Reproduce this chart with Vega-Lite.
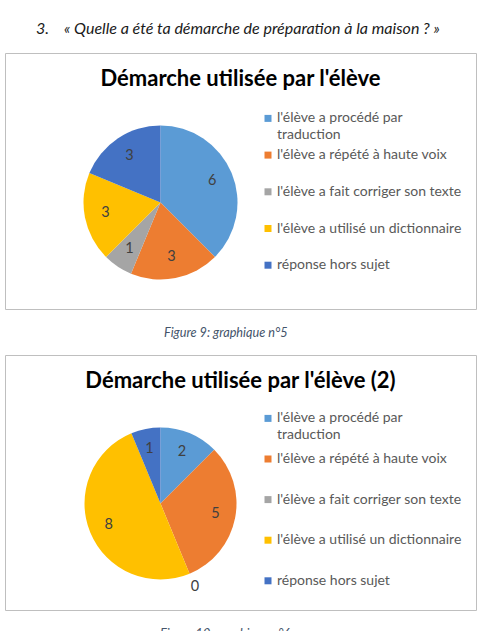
{
  "$schema": "https://vega.github.io/schema/vega-lite/v6.json",
  "background": "white",
  "padding": {"left": 4, "top": 20, "right": 0, "bottom": 0},
  "title": {"text": "3.\u00a0\u00a0\u00a0\u00a0« Quelle a été ta démarche de préparation à la maison ? »", "anchor": "start", "frame": "group", "dx": 31, "offset": 3, "baseline": "alphabetic", "font": "Lato", "fontSize": 16, "fontStyle": "italic", "fontWeight": "normal", "color": "#1a1a1a"},
  "spacing": 14,
  "resolve": {"scale": {"color": "independent"}, "legend": {"color": "independent"}},
  "config": {"style": {"guide-label": {"lineHeight": 17}}},
  "vconcat": [
    {
      "title": {"text": "Figure 9: graphique n°5", "orient": "bottom", "anchor": "start", "frame": "group", "dx": 159, "offset": 27, "baseline": "alphabetic", "font": "Lato", "fontSize": 12.7, "fontStyle": "italic", "fontWeight": "normal", "color": "#44546A"},
      "resolve": {"scale": {"color": "independent"}, "legend": {"color": "independent"}},
      "vconcat": [
        {
          "width": 471, "height": 256,
          "view": {"stroke": "#BFBFBF", "strokeWidth": 1, "fill": "white"},
          "title": {"text": "Démarche utilisée par l'élève", "frame": "group", "anchor": "middle", "baseline": "alphabetic", "offset": -55, "font": "Lato", "fontSize": 22, "fontWeight": "bold", "color": "#000000"},
          "data": {"values": [
            {"i": 1, "cat": "l'élève a procédé par traduction", "n": 6},
            {"i": 2, "cat": "l'élève a répété à haute voix", "n": 3},
            {"i": 3, "cat": "l'élève a fait corriger son texte", "n": 1},
            {"i": 4, "cat": "l'élève a utilisé un dictionnaire", "n": 3},
            {"i": 5, "cat": "réponse hors sujet", "n": 3}
          ]},
          "layer": [
            {
              "mark": {"type": "arc", "outerRadius": 77, "x": 155.5, "y": 149.5},
              "encoding": {
                "theta": {"field": "n", "type": "quantitative", "stack": true},
                "order": {"field": "i", "type": "quantitative"},
                "color": {"field": "cat", "type": "nominal",
                  "scale": {"domain": ["l'élève a procédé par traduction", "l'élève a répété à haute voix", "l'élève a fait corriger son texte", "l'élève a utilisé un dictionnaire", "réponse hors sujet"], "range": ["#5B9BD5", "#ED7D31", "#A5A5A5", "#FFC000", "#4472C4"]},
                  "legend": {"orient": "none", "legendX": 256, "legendY": 58.4, "title": null, "padding": 0, "symbolType": "square", "symbolSize": 49, "symbolStrokeWidth": 0, "labelFont": "Lato", "labelFontSize": 14, "labelColor": "#595959", "labelLimit": 300, "labelOffset": 2, "rowPadding": 5.7, "gridAlign": "all",
                    "labelExpr": "indexof(datum.label, 'traduction') > 0 ? [substring(datum.label, 0, 21), 'traduction'] : datum.label"}
                }
              }
            },
            {
              "mark": {"type": "text", "radius": {"expr": "datum.n == 0 ? 90 : 56"}, "x": 155.5, "y": 149.5, "font": "Lato", "fontSize": 14.5, "color": "#404040"},
              "encoding": {
                "theta": {"field": "n", "type": "quantitative", "stack": true},
                "order": {"field": "i", "type": "quantitative"},
                "detail": {"field": "cat", "type": "nominal"},
                "text": {"field": "n", "type": "quantitative"}
              }
            }
          ]
        }
      ]
    },
    {
      "title": {"text": "Figure 10: graphique n°6", "orient": "bottom", "anchor": "start", "frame": "group", "dx": 155, "offset": 27, "baseline": "alphabetic", "font": "Lato", "fontSize": 12.7, "fontStyle": "italic", "fontWeight": "normal", "color": "#44546A"},
      "resolve": {"scale": {"color": "independent"}, "legend": {"color": "independent"}},
      "vconcat": [
        {
          "width": 471, "height": 255,
          "view": {"stroke": "#BFBFBF", "strokeWidth": 1, "fill": "white"},
          "title": {"text": "Démarche utilisée par l'élève (2)", "frame": "group", "anchor": "middle", "baseline": "alphabetic", "offset": -55, "font": "Lato", "fontSize": 22, "fontWeight": "bold", "color": "#000000"},
          "data": {"values": [
            {"i": 1, "cat": "l'élève a procédé par traduction", "n": 2},
            {"i": 2, "cat": "l'élève a répété à haute voix", "n": 5},
            {"i": 3, "cat": "l'élève a fait corriger son texte", "n": 0},
            {"i": 4, "cat": "l'élève a utilisé un dictionnaire", "n": 8},
            {"i": 5, "cat": "réponse hors sujet", "n": 1}
          ]},
          "layer": [
            {
              "mark": {"type": "arc", "outerRadius": 76, "x": 155.5, "y": 148.5},
              "encoding": {
                "theta": {"field": "n", "type": "quantitative", "stack": true},
                "order": {"field": "i", "type": "quantitative"},
                "color": {"field": "cat", "type": "nominal",
                  "scale": {"domain": ["l'élève a procédé par traduction", "l'élève a répété à haute voix", "l'élève a fait corriger son texte", "l'élève a utilisé un dictionnaire", "réponse hors sujet"], "range": ["#5B9BD5", "#ED7D31", "#A5A5A5", "#FFC000", "#4472C4"]},
                  "legend": {"orient": "none", "legendX": 256, "legendY": 56.4, "title": null, "padding": 0, "symbolType": "square", "symbolSize": 49, "symbolStrokeWidth": 0, "labelFont": "Lato", "labelFontSize": 14, "labelColor": "#595959", "labelLimit": 300, "labelOffset": 2, "rowPadding": 9.6, "gridAlign": "all",
                    "labelExpr": "indexof(datum.label, 'traduction') > 0 ? [substring(datum.label, 0, 21), 'traduction'] : datum.label"}
                }
              }
            },
            {
              "mark": {"type": "text", "radius": {"expr": "datum.n == 0 ? 90 : 56"}, "x": 155.5, "y": 148.5, "font": "Lato", "fontSize": 14.5, "color": "#404040"},
              "encoding": {
                "theta": {"field": "n", "type": "quantitative", "stack": true},
                "order": {"field": "i", "type": "quantitative"},
                "detail": {"field": "cat", "type": "nominal"},
                "text": {"field": "n", "type": "quantitative"}
              }
            }
          ]
        }
      ]
    }
  ]
}
